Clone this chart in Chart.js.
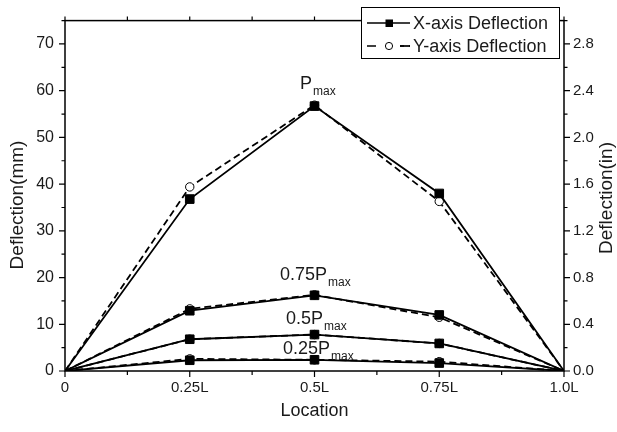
<!DOCTYPE html>
<html>
<head>
<meta charset="utf-8">
<script src="https://cdn.jsdelivr.net/npm/chart.js@4"></script>
<style>
  html, body { margin: 0; padding: 0; background: #fff; }
  #wrap { width: 617px; height: 432px; position: relative; }
</style>
</head>
<body>
<div id="wrap"><canvas id="chart"></canvas></div>
<script>
// --- data ---
const locations = [0, 0.25, 0.5, 0.75, 1.0];
const xTickValues = [0, 0.25, 0.5, 0.75, 1.0];
const xTickLabels = ['0', '0.25L', '0.5L', '0.75L', '1.0L'];
const mmTicks = [0, 10, 20, 30, 40, 50, 60, 70];
const inTicks = [0, 0.4, 0.8, 1.2, 1.6, 2.0, 2.4, 2.8];

// X-axis deflection (mm)
const xDefPmax = [0, 36.8, 56.7, 38.0, 0];
const xDef075 = [0, 12.9, 16.2, 12.0, 0];
const xDef050 = [0, 6.8, 7.8, 5.9, 0];
const xDef025 = [0, 2.3, 2.4, 1.7, 0];
// Y-axis deflection (mm)
const yDefPmax = [0, 39.4, 56.9, 36.3, 0];
const yDef075 = [0, 13.3, 16.3, 11.5, 0];
const yDef050 = [0, 6.8, 7.8, 5.9, 0];
const yDef025 = [0, 2.6, 2.4, 2.0, 0];

// load level labels: [main text, x location, deflection (mm) of baseline]
const loadLabels = [
    ['P', 0.471, 60.4],
    ['0.75P', 0.431, 19.5],
    ['0.5P', 0.443, 10.1],
    ['0.25P', 0.437, 3.7]
];

const FONT = '"Liberation Sans", Arial, sans-serif';
const INK = '#1a1a1a';
const endless = [0, 4.2, 4.2, 4.2, 0];

function solidSet(data) {
    return {
        data: locations.map((x, i) => ({ x: x, y: data[i] })),
        borderColor: '#000', borderWidth: 1.8,
        pointStyle: 'rect', pointRadius: endless.map(r => r * 1.45),
        pointBackgroundColor: '#000', pointBorderColor: '#000', pointBorderWidth: 1,
        tension: 0, fill: false
    };
}
function dashedSet(data) {
    return {
        data: locations.map((x, i) => ({ x: x, y: data[i] })),
        borderColor: '#000', borderWidth: 1.8, borderDash: [7, 4],
        pointStyle: 'circle', pointRadius: endless,
        pointBackgroundColor: '#fff', pointBorderColor: '#000', pointBorderWidth: 1,
        tension: 0, fill: false
    };
}

// frame, tick marks, axis titles, annotations and legend
const decorPlugin = {
    id: 'decor',
    afterDraw(chart) {
        const ctx = chart.ctx;
        const a = chart.chartArea;
        const sx = chart.scales.x, sy = chart.scales.y, sy2 = chart.scales.y2;
        ctx.save();
        ctx.strokeStyle = '#000';
        ctx.lineWidth = 1.5;
        ctx.strokeRect(a.left, a.top, a.right - a.left, a.bottom - a.top);

        ctx.lineWidth = 1.2;
        ctx.beginPath();
        // left ticks
        for (let v = 0; v <= 75; v += 5) {
            const y = sy.getPixelForValue(v);
            const len = v % 10 === 0 ? 6 : 3.5;
            ctx.moveTo(a.left, y); ctx.lineTo(a.left - len, y);
        }
        // right ticks
        for (let k = 0; k <= 15; k++) {
            const y = sy2.getPixelForValue(k * 0.2);
            const len = k % 2 === 0 ? 6 : 3.5;
            ctx.moveTo(a.right, y); ctx.lineTo(a.right + len, y);
        }
        // bottom and top ticks
        for (let k = 0; k <= 8; k++) {
            const x = sx.getPixelForValue(k * 0.125);
            const len = k % 2 === 0 ? 6 : 4;
            ctx.moveTo(x, a.bottom); ctx.lineTo(x, a.bottom + len);
            ctx.moveTo(x, a.top); ctx.lineTo(x, a.top - 4);
        }
        ctx.stroke();

        // axis titles
        ctx.fillStyle = INK;
        ctx.font = '19px ' + FONT;
        ctx.textAlign = 'center';
        ctx.textBaseline = 'middle';
        ctx.save();
        ctx.translate(18, 205); ctx.rotate(-Math.PI / 2);
        ctx.fillText('Deflection(mm)', 0, 0);
        ctx.restore();
        ctx.save();
        ctx.translate(607, 198); ctx.rotate(-Math.PI / 2);
        ctx.fillText('Deflection(in)', 0, 0);
        ctx.restore();
        ctx.font = '18px ' + FONT;
        ctx.fillText('Location', (a.left + a.right) / 2, 411);

        // load level labels with subscript
        ctx.textAlign = 'left';
        ctx.textBaseline = 'alphabetic';
        loadLabels.forEach(([txt, lx, ly]) => {
            const x = sx.getPixelForValue(lx);
            const y = sy.getPixelForValue(ly);
            ctx.font = '18px ' + FONT;
            ctx.fillText(txt, x, y);
            const w = ctx.measureText(txt).width;
            ctx.font = '12px ' + FONT;
            ctx.fillText('max', x + w + 1, y + 6);
        });

        // legend box
        const bx = 361, by = 7, bw = 198, bh = 51;
        ctx.fillStyle = '#fff';
        ctx.fillRect(bx, by, bw, bh);
        ctx.lineWidth = 1;
        ctx.strokeStyle = '#000';
        ctx.strokeRect(bx + 0.5, by + 0.5, bw, bh);
        const rows = [['X-axis Deflection', 23, false], ['Y-axis Deflection', 46, true]];
        rows.forEach(([label, ry, dashed]) => {
            ctx.lineWidth = 1.7;
            ctx.setLineDash(dashed ? [9, 5] : []);
            ctx.beginPath();
            ctx.moveTo(367, ry); ctx.lineTo(410, ry);
            ctx.stroke();
            ctx.setLineDash([]);
            if (dashed) {
                ctx.fillStyle = '#fff';
                ctx.fillRect(380, ry - 5, 20, 10);
                ctx.beginPath();
                ctx.moveTo(400, ry); ctx.lineTo(410, ry);
                ctx.stroke();
                ctx.lineWidth = 1;
                ctx.beginPath();
                ctx.arc(389, ry, 3.6, 0, Math.PI * 2);
                ctx.fill(); ctx.stroke();
            } else {
                ctx.fillStyle = '#000';
                ctx.fillRect(385.5, ry - 3.5, 7.5, 7.5);
            }
            ctx.fillStyle = INK;
            ctx.font = '18px ' + FONT;
            ctx.textBaseline = 'middle';
            ctx.fillText(label, 413, ry + 1);
        });
        ctx.restore();
    }
};

new Chart(document.getElementById('chart'), {
    type: 'line',
    data: {
        datasets: [
            solidSet(xDefPmax), solidSet(xDef075), solidSet(xDef050), solidSet(xDef025),
            dashedSet(yDefPmax), dashedSet(yDef075), dashedSet(yDef050), dashedSet(yDef025)
        ]
    },
    options: {
        responsive: true,
        maintainAspectRatio: false,
        animation: false,
        layout: { padding: { top: 6, left: 0, right: 0, bottom: 0 } },
        plugins: { legend: { display: false }, tooltip: { enabled: false } },
        scales: {
            x: {
                type: 'linear', min: 0, max: 1,
                grid: { display: false, drawTicks: false },
                border: { display: false },
                afterBuildTicks: s => { s.ticks = xTickValues.map(v => ({ value: v })); },
                afterFit: s => { s.height = 61; },
                ticks: {
                    padding: 8, color: INK, font: { size: 15, family: FONT }, maxRotation: 0,
                    callback: (v) => xTickLabels[xTickValues.indexOf(v)]
                }
            },
            y: {
                position: 'left', min: 0, max: 75,
                grid: { display: false, drawTicks: false },
                border: { display: false },
                afterBuildTicks: s => { s.ticks = mmTicks.map(v => ({ value: v })); },
                afterFit: s => { s.width = 65; },
                ticks: { padding: 11, color: INK, font: { size: 16, family: FONT } }
            },
            y2: {
                position: 'right', min: 0, max: 3, display: true,
                grid: { display: false, drawTicks: false },
                border: { display: false },
                afterBuildTicks: s => { s.ticks = inTicks.map(v => ({ value: v })); },
                afterFit: s => { s.width = 53; },
                ticks: {
                    padding: 9, color: INK, font: { size: 15, family: FONT },
                    callback: v => v.toFixed(1)
                }
            }
        }
    },
    plugins: [decorPlugin]
});
</script>
</body>
</html>
